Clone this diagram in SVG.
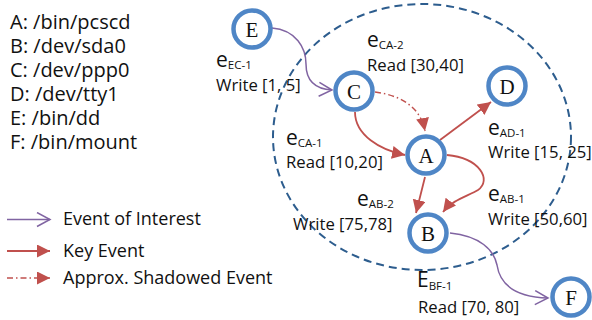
<svg xmlns="http://www.w3.org/2000/svg" width="592" height="320" viewBox="0 0 592 320">
<defs>
<marker id="tri" markerUnits="userSpaceOnUse" markerWidth="14" markerHeight="14" viewBox="0 0 14 14" refX="13" refY="6.5" orient="auto">
<path d="M0,0 L13,6.5 L0,13 z" fill="#C0504D"/>
</marker>
<marker id="vee" markerUnits="userSpaceOnUse" markerWidth="16" markerHeight="18" viewBox="0 0 16 18" refX="14" refY="8" orient="auto">
<path d="M1,1 L14,8 L1,15" fill="none" stroke="#8064A2" stroke-width="1.5"/>
</marker>
<style>
.node circle{fill:#fff;stroke:#4F86C6;stroke-width:4.5}
.node text{font-family:"Liberation Serif","Times New Roman",serif;font-size:21px;fill:#111;text-anchor:middle}
.lst{font-family:"Open Sans","Liberation Sans",sans-serif;font-size:20px;fill:#111}
.lbl{font-family:"Open Sans","Liberation Sans",sans-serif;font-size:16.7px;fill:#111}
.ev{font-family:"Open Sans","Liberation Sans",sans-serif;font-size:21px;fill:#111}
.sub{font-size:11.5px}
.leg{font-family:"Open Sans","Liberation Sans",sans-serif;font-size:18px;fill:#111}
.key{fill:none;stroke:#C0504D;stroke-width:1.8;marker-end:url(#tri)}
.shadow{fill:none;stroke:#C0504D;stroke-width:1.5;stroke-dasharray:6 3 1.5 3;marker-end:url(#tri)}
.interest{fill:none;stroke:#8064A2;stroke-width:1.5;marker-end:url(#vee)}
</style>
</defs>
<rect width="592" height="320" fill="#fff"/>

<g id="legend-list">
<text class="lst" x="10" y="29">A: /bin/pcscd</text>
<text class="lst" x="10" y="53">B: /dev/sda0</text>
<text class="lst" x="10" y="77">C: /dev/ppp0</text>
<text class="lst" x="10" y="101">D: /dev/tty1</text>
<text class="lst" x="10" y="125">E: /bin/dd</text>
<text class="lst" x="10" y="149">F: /bin/mount</text>
</g>

<g id="legend-key">
<path class="interest" d="M7,219.5 L50,219.5"/>
<text class="leg" x="63" y="225">Event of Interest</text>
<path class="key" d="M7,251 L50,251"/>
<text class="leg" x="63" y="257">Key Event</text>
<path class="shadow" d="M7,278 L50,278"/>
<text class="leg" x="63" y="284">Approx. Shadowed Event</text>
</g>

<ellipse id="region" cx="422" cy="137" rx="149" ry="133" fill="none" stroke="#2D5D8E" stroke-width="2" stroke-dasharray="8 5"/>

<g id="connectors">
<path class="interest" d="M272,28 C296,30 306,48 306,64 C306,80 314,89 332,90"/>
<path class="shadow" d="M375,92 C398,95 420,105 425,131"/>
<path class="key" d="M355,112 C355,135 380,150 405,155"/>
<path class="key" d="M440,140 L491,102"/>
<path class="key" d="M425,177 L416,213"/>
<path class="key" d="M447,155 C480,158 492,180 478,190 C468,196 452,200 443,212"/>
<path class="interest" d="M450,233 C480,236 494,250 497,265 C500,285 515,297 548,298"/>
</g>

<g id="edge-labels">
<text class="ev" x="216" y="67">e<tspan class="sub" dy="2">EC-1</tspan></text>
<text class="lbl" x="216" y="91">Write [1, 5]</text>
<text class="ev" x="367" y="47">e<tspan class="sub" dy="2">CA-2</tspan></text>
<text class="lbl" x="367" y="71">Read [30,40]</text>
<text class="ev" x="286" y="145">e<tspan class="sub" dy="2">CA-1</tspan></text>
<text class="lbl" x="286" y="168">Read [10,20]</text>
<text class="ev" x="488" y="135">e<tspan class="sub" dy="2">AD-1</tspan></text>
<text class="lbl" x="488" y="158">Write [15, 25]</text>
<text class="ev" x="488" y="201">e<tspan class="sub" dy="2">AB-1</tspan></text>
<text class="lbl" x="488" y="225">Write [50,60]</text>
<text class="ev" x="357" y="206">e<tspan class="sub" dy="2">AB-2</tspan></text>
<text class="lbl" x="293" y="230">Write [75,78]</text>
<text class="ev" x="417" y="287">E<tspan class="sub" dy="3">BF-1</tspan></text>
<text class="lbl" x="418" y="313">Read [70, 80]</text>
</g>

<g id="node-E" class="node"><circle cx="252" cy="29" r="18.5"/><text x="252" y="36.5">E</text></g>
<g id="node-C" class="node"><circle cx="354" cy="91" r="18.5"/><text x="354" y="98.5">C</text></g>
<g id="node-D" class="node"><circle cx="507" cy="86" r="18.5"/><text x="507" y="93.5">D</text></g>
<g id="node-A" class="node"><circle cx="426" cy="155" r="18.5"/><text x="426" y="162.5">A</text></g>
<g id="node-B" class="node"><circle cx="428" cy="233" r="18.5"/><text x="428" y="240.5">B</text></g>
<g id="node-F" class="node"><circle cx="571" cy="297" r="18.5"/><text x="571" y="304.5">F</text></g>
</svg>
